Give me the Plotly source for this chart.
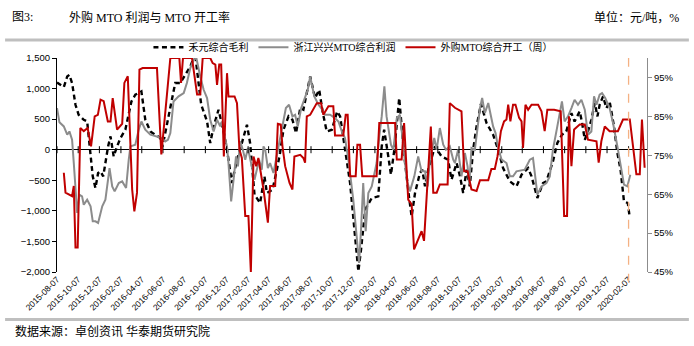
import pandas as pd
import plotly.graph_objects as go

START = pd.Timestamp("2015-08-07")   # first weekly observation
MARK_WEEK = 235                       # dashed marker week (2020-02-07)

# 禾元综合毛利 (元/吨) — week offset from START, value
hy_wk = [
    0, 1.4, 2.8, 4.2, 5.1, 6.2, 7.6, 8.9, 11, 12.4,
    13.8, 14.7, 15.8, 16.9, 17.9, 19, 19.9, 21, 22, 23.3,
    24.7, 26.1, 28.1, 30.6, 32.2, 34.7, 36.3, 38.4, 40.4, 42.5,
    43.4, 44.8, 46.6, 48.6, 50.7, 52.7, 54.8, 56.2, 57, 58.2,
    59.3, 61.7, 63, 64.4, 66.4, 68.5, 69.9, 71.9, 74, 76,
    78.1, 79.4, 80.4, 81.2, 83.5, 85.3, 86.3, 88.6, 90.4, 91.7,
    93.1, 95.2, 96.8, 98.3, 100, 101.3, 102.4, 104.1, 106.1, 107.8,
    109.3, 110.9, 113, 115.2, 116.4, 117.7, 120.5, 122.8, 123.9, 125,
    126.7, 129.4, 132.1, 133.5, 134.5, 136.2, 137.3, 138.7, 139.7, 140.7,
    141.7, 142.8, 144.7, 145.8, 147.2, 149.2, 150.2, 151.3, 152.6, 155.4,
    158.1, 160.8, 162.2, 164.3, 165.7, 167, 168.4, 169.7, 171.1, 172.5,
    174.3, 176.6, 179.3, 181.4, 183.4, 186.2, 188.9, 191, 193.7, 195.1,
    197.5, 199.8, 201.2, 203.9, 205.7, 207.6, 209.4, 211.5, 212.8, 214.9,
    215.8, 217, 218.3, 219.7, 221.1, 222.2, 223.1, 224.5, 225.9, 227.2,
    229, 230.4, 231.7, 233.1, 234.7, 235.4]
hy_val = [
    1100, 1062, 1024, 1198, 1225, 1090, 735, 572, 490, 462,
    -54, -436, -626, -381, -354, -436, -218, 54, 218, -109,
    54, 191, 327, 789, 899, 953, 490, 299, 245, 191,
    54, 327, 681, 1090, 1090, 1225, 1361, 1500, 1500, 1090,
    735, 462, 109, 381, 654, 299, 0, -545, -163, 109,
    409, 109, -327, -735, -872, -436, -708, -654, -327, -54,
    327, 545, 490, 272, 681, 654, 872, 1198, 845, 980,
    599, 299, 327, 627, 545, 191, -545, -1525, -1989, -1634,
    -981, -790, -763, 54, 327, -109, -409, 0, 381, 845,
    381, -109, -763, -1090, -708, -381, -327, -600, -327, 54,
    -109, -163, -490, -218, -436, -708, -327, -600, 0, 381,
    750, 436, 245, 0, -300, -518, -600, -409, -300, -436,
    -790, -545, -518, -191, 109, 245, 299, 599, 462, 627,
    462, 163, 299, 490, 763, 545, 735, 872, 681, 790,
    381, -54, -327, -845, -872, -1090]

# 浙江兴兴MTO综合利润 (元/吨)
zj_wk = [
    0, 1, 2.8, 4.2, 5.1, 6.2, 6.9, 8.3, 9.2, 10.3,
    11, 12.4, 13.8, 14.7, 15.8, 16.9, 18.6, 19.9, 21.6, 22.7,
    23.7, 25.4, 26.8, 28.4, 29.5, 30.2, 32.2, 33.6, 34.7, 36.3,
    38.4, 41.1, 43.2, 44.5, 45.6, 46.6, 47.9, 50, 52.1, 53.4,
    54.8, 56.2, 57.3, 58.9, 60.3, 61.7, 63, 64.4, 65.8, 67.1,
    67.8, 69.2, 69.9, 70.5, 71.6, 72.6, 73.6, 74.4, 75.3, 76.4,
    77.4, 78.5, 79.4, 80.4, 81.2, 83.1, 84.2, 84.9, 85.6, 86.7,
    87.6, 89, 90.1, 91, 92.7, 94.1, 95.4, 96.8, 97.9, 99,
    100.4, 102, 103.1, 104.1, 105.8, 107.5, 108.6, 110.2, 112.3, 114.3,
    115.7, 117.1, 118.4, 119.8, 121.8, 123.2, 124.2, 125, 125.9, 126.9,
    128, 129.4, 131.4, 132.5, 133.5, 134.6, 135.5, 137.3, 138.3, 139.7,
    141, 142.4, 143.8, 145.1, 146.9, 148.5, 149.9, 151.3, 152.4, 153.3,
    155.1, 156.1, 157.4, 158.8, 159.9, 161.5, 162.9, 163.6, 164.9, 166.3,
    167.7, 168.8, 169.5, 170.4, 171.8, 172.9, 173.9, 174.8, 175.9, 177.3,
    179.3, 180.3, 181.4, 182.8, 184.8, 186.2, 187.5, 188.9, 192.3, 194.4,
    195.7, 196.7, 197.5, 199.2, 201.2, 202.6, 203.9, 205.7, 207.6, 208.7,
    210.1, 211.5, 212.8, 214.2, 215.6, 217, 218.3, 219.7, 220.8, 221.8,
    223.1, 224.1, 225.4, 227.2, 228.6, 230.4, 231.7, 233.1, 234.5, 235.7]
zj_val = [
    681, 450, 381, 245, 299, 163, -218, -1035, -735, -763,
    -899, -817, -926, -1171, -1171, -1198, -926, -817, -300, -600,
    -681, -545, -518, -626, -163, 54, 82, 327, 462, 327,
    245, 218, 191, 136, 163, 272, 789, 872, 926, 1090,
    1334, 1471, 1500, 1198, 980, 845, 490, 299, 490, 381,
    462, 163, 54, -218, -845, -490, -109, -272, 136, 0,
    -163, 27, -163, -381, -490, -163, -327, 54, 0, -300,
    -218, -381, -163, 54, 409, 681, 735, 545, 572, 381,
    681, 872, 980, 1198, 872, 735, 681, 572, 572, 517,
    462, 299, 191, -163, -817, -1416, -1852, -1307, -545, -1334,
    -708, -600, -218, 218, 545, 1035, 545, 82, 0, 517,
    572, 54, -490, -681, -436, -109, -354, -354, -600, -163,
    191, 0, 354, 82, 0, 54, -163, -218, 0, -436,
    -54, -272, -572, 27, 0, 354, 681, 845, 599, 763,
    381, 272, 27, -163, -218, -436, -436, -354, -327, -163,
    -136, -463, -735, -600, -545, -436, 0, 381, 789, 462,
    545, 681, 817, 735, 817, 654, 245, 299, 872, 735,
    899, 926, 845, 681, 436, 54, -218, -572, -600, -409]

# 外购MTO综合开工（周） (%)
wg_wk = [
    2.8, 3.5, 6.2, 6.9, 7.6, 8.5, 9.6, 11, 12.6, 14,
    15.5, 16.8, 17.9, 19.2, 20.9, 22, 22.9, 24.7, 26.8, 27.7,
    29.1, 30.9, 31.8, 32.9, 33.9, 35.2, 41.1, 42.9, 45.2, 46.6,
    50.3, 51, 51.8, 55.5, 57.6, 58.9, 59.9, 63, 64, 65.1,
    65.8, 66.7, 67.5, 68.6, 69.9, 70.5, 73, 74, 75, 76,
    77.4, 78.7, 79.7, 80.8, 81.9, 82.8, 84.9, 86.7, 87.6, 89.7,
    90.8, 92, 92.7, 93.8, 95.6, 96.8, 97.6, 100, 101.3, 102,
    102.7, 104.1, 106.8, 108.6, 109.5, 111.6, 113.6, 114.3, 117.7, 118.7,
    119.5, 120.5, 122.8, 123.5, 124.6, 125.5, 131.4, 132.5, 139, 139.7,
    141.7, 142.7, 144.4, 145.8, 146.8, 149.9, 150.9, 153.7, 154.7, 156.1,
    157.4, 160.6, 161.5, 163.6, 166.3, 167.4, 168.8, 170.4, 172.5, 173.9,
    177.3, 178.6, 180, 181.1, 182.5, 183.8, 184.8, 185.5, 186.4, 187.5,
    188.5, 190, 191, 191.6, 192.6, 193.7, 195.1, 197.8, 199.2, 200.5,
    201.6, 204.4, 207.1, 208.5, 209.7, 210.5, 211.5, 212.6, 214.9, 217,
    218.3, 221.8, 222.7, 223.8, 225.2, 227.2, 230.6, 232.7, 235.5, 238.2,
    239.6, 240.5, 241.6]
wg_val = [
    70.5, 65.4, 64.5, 67.1, 51.3, 51.3, 82.0, 81.2, 82.0, 77.3,
    85.0, 85.4, 89.3, 88.9, 83.7, 83.7, 89.7, 81.6, 83.1, 93.6,
    95.3, 66.2, 60.6, 65.4, 97.0, 97.4, 97.4, 75.2, 90.6, 100,
    100, 93.6, 100, 100, 90.6, 90.6, 100, 100, 98.7, 98.3,
    93.1, 98.3, 98.3, 74.7, 96.1, 90.1, 90.1, 88.4, 76.5, 74.3,
    59.4, 59.4, 45, 74.7, 72.2, 74.3, 66.2, 57.7, 67.1, 67.1,
    83.1, 82.9, 77.3, 72.2, 67.9, 66.2, 74.7, 75.1, 74.3, 73.1,
    85.0, 85.4, 88.4, 88.4, 85.4, 87.6, 87.6, 80.1, 80.1, 85.4,
    85.4, 69.6, 69.6, 77.7, 77.7, 69.6, 69.6, 83.3, 83.3, 73.9,
    73.9, 83.3, 63.6, 62.4, 50.8, 55.5, 53, 82.4, 65.4, 65.4,
    67.5, 67.5, 88.4, 87.2, 86.3, 70.9, 70.9, 66.2, 65.8, 68.6,
    68.6, 71.5, 71.5, 74.7, 81.2, 83.7, 84.2, 88.0, 83.7, 88.0,
    88.0, 84.6, 83.7, 76.9, 88.0, 86.7, 88.0, 88.0, 86.3, 81.2,
    86.7, 86.7, 86.3, 59.4, 59.4, 85.0, 72.2, 81.6, 82.9, 82.9,
    79.0, 78.6, 73.1, 78.6, 82.4, 81.2, 81.2, 84.2, 84.2, 70.1,
    70.1, 84.2, 71.8]

names = ["禾元综合毛利", "浙江兴兴MTO综合利润", "外购MTO综合开工（周）"]
left_ticks = [-2000, -1500, -1000, -500, 0, 500, 1000, 1500]
right_ticks = [45, 55, 65, 75, 85, 95]
x_ticks = pd.date_range("2015-08-01", "2020-02-01", freq="2MS") + pd.Timedelta(days=6)


def to_dates(weeks):
    return [START + pd.Timedelta(days=7 * w) for w in weeks]


CJK = "Liberation Serif, Noto Sans CJK SC, sans-serif"
SANS = "Liberation Sans, Arial, sans-serif"

fig = go.Figure()
fig.add_trace(go.Scatter(x=to_dates(hy_wk), y=hy_val, name=names[0], mode="lines",
                         line=dict(color="black", width=2.4, dash="5px,3.5px")))
fig.add_trace(go.Scatter(x=to_dates(zj_wk), y=zj_val, name=names[1], mode="lines",
                         line=dict(color="#8c8c8c", width=2)))
fig.add_trace(go.Scatter(x=to_dates(wg_wk), y=wg_val, name=names[2], mode="lines",
                         yaxis="y2", line=dict(color="#C00000", width=2)))
# category-axis tick marks sitting on the zero line
fig.add_trace(go.Scatter(x=list(x_ticks), y=[0] * len(x_ticks), mode="markers",
                         showlegend=False, hoverinfo="skip",
                         marker=dict(symbol="line-ns", size=5,
                                     line=dict(color="black", width=1))))

mark_date = START + pd.Timedelta(days=7 * MARK_WEEK)
fig.add_shape(type="line", xref="x", yref="paper", x0=mark_date, x1=mark_date,
              y0=-0.05, y1=1.0, line=dict(color="#F4B183", width=1.3, dash="dash"))

# header / footer rules
fig.add_shape(type="line", xref="paper", yref="paper", x0=-0.088, x1=1.071,
              y0=1.084, y1=1.084, line=dict(color="#bfbfbf", width=3))
fig.add_shape(type="line", xref="paper", yref="paper", x0=-0.088, x1=1.071,
              y0=-0.222, y1=-0.222, line=dict(color="#bfbfbf", width=3))

fig.add_annotation(text="图3:", xref="paper", yref="paper", x=-0.080, y=1.19,
                   xanchor="left", yanchor="middle", showarrow=False,
                   font=dict(family=CJK, size=12, color="black"))
fig.add_annotation(text="外购 MTO 利润与 MTO 开工率", xref="paper", yref="paper", x=0.017, y=1.19,
                   xanchor="left", yanchor="middle", showarrow=False,
                   font=dict(family=CJK, size=12, color="black"))
fig.add_annotation(text="单位：元/吨，%", xref="paper", yref="paper", x=1.058, y=1.19,
                   xanchor="right", yanchor="middle", showarrow=False,
                   font=dict(family=CJK, size=12, color="black"))
fig.add_annotation(text="数据来源：卓创资讯 华泰期货研究院", xref="paper", yref="paper", x=-0.074, y=-0.276,
                   xanchor="left", yanchor="middle", showarrow=False,
                   font=dict(family=CJK, size=12, color="black"))

fig.update_layout(
    width=694, height=346,
    margin=dict(l=57, r=47, t=58, b=74),
    paper_bgcolor="white", plot_bgcolor="white",
    showlegend=True,
    legend=dict(orientation="h", x=0.155, y=1.05, xanchor="left", yanchor="middle",
                font=dict(family=CJK, size=10, color="black"), bgcolor="rgba(0,0,0,0)",
                itemwidth=30, tracegroupgap=0),
    xaxis=dict(type="date", range=[START, START + pd.Timedelta(days=1698)],
               tickmode="array", tickvals=list(x_ticks),
               ticktext=[d.strftime("%Y-%m-%d") for d in x_ticks],
               tickangle=-45, tickfont=dict(family=SANS, size=8.5, color="black"),
               showgrid=False, showline=False, zeroline=False, ticks=""),
    yaxis=dict(range=[-2000, 1500], tickvals=left_ticks, tickformat=",",
               tickfont=dict(family=SANS, size=9.5, color="black"),
               showgrid=False, showline=True, linecolor="black", linewidth=1,
               ticks="outside", ticklen=4, tickcolor="black",
               zeroline=True, zerolinecolor="black", zerolinewidth=1.2),
    yaxis2=dict(range=[45, 100], tickmode="array", tickvals=right_ticks,
                ticktext=[f"{v}%" for v in right_ticks], overlaying="y",
                side="right", tickfont=dict(family=SANS, size=9.5, color="black"),
                showgrid=False, showline=True, linecolor="#8c8c8c", linewidth=1,
                ticks="outside", ticklen=4, tickcolor="#8c8c8c", zeroline=False),
)

fig.write_html("out.html")
